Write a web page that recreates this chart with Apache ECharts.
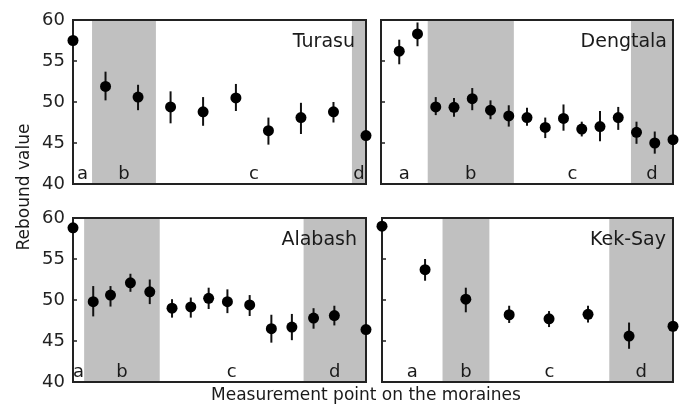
<!DOCTYPE html>
<html>
<head>
<meta charset="utf-8">
<script src="https://cdn.jsdelivr.net/npm/echarts@6/dist/echarts.min.js"></script>
<style>
html, body { margin: 0; padding: 0; background: #fff; }
#chart { width: 684px; height: 409px; }
</style>
</head>
<body>
<div id="chart"></div>
<script>
// position along the moraine (0-100 of the panel), mean rebound value, error bar ends
var turasuX = [0, 11.1, 22.2, 33.3, 44.4, 55.6, 66.7, 77.8, 88.9, 100];
var turasuY = [57.5, 51.9, 50.6, 49.4, 48.8, 50.5, 46.5, 48.1, 48.8, 45.9];
var turasuLo = [null, 50.2, 49.0, 47.4, 47.1, 48.9, 44.8, 46.1, 47.5, null];
var turasuHi = [null, 53.7, 52.1, 51.3, 50.6, 52.2, 48.1, 49.9, 50.0, null];
var turasuZones = [0, 6.5, 28.3, 95.2, 100];

var dengtalaX = [6.25, 12.5, 18.75, 25, 31.25, 37.5, 43.75, 50, 56.25, 62.5, 68.75, 75, 81.25, 87.5, 93.75, 100];
var dengtalaY = [56.2, 58.3, 49.4, 49.35, 50.4, 49.0, 48.3, 48.1, 46.9, 48.0, 46.7, 47.0, 48.1, 46.3, 45.0, 45.4];
var dengtalaLo = [54.6, 56.8, 48.4, 48.2, 49.0, 47.9, 47.0, 47.1, 45.6, 46.5, 45.8, 45.2, 46.6, 44.9, 43.7, null];
var dengtalaHi = [57.6, 59.7, 50.6, 50.5, 51.7, 50.2, 49.6, 49.3, 48.1, 49.7, 47.6, 48.9, 49.4, 47.6, 46.4, null];
var dengtalaZones = [0, 16.0, 45.5, 85.6, 100];

var alabashX = [0, 6.9, 12.8, 19.6, 26.2, 33.8, 40.2, 46.3, 52.7, 60.3, 67.7, 74.7, 82.1, 89.2, 100];
var alabashY = [58.8, 49.8, 50.6, 52.1, 51.0, 49.0, 49.15, 50.2, 49.8, 49.4, 46.5, 46.7, 47.8, 48.1, 46.4];
var alabashLo = [null, 48.0, 49.2, 51.0, 49.5, 47.85, 47.85, 48.9, 48.4, 48.05, 44.8, 45.1, 46.5, 46.9, null];
var alabashHi = [null, 51.7, 51.7, 53.2, 52.5, 50.1, 50.3, 51.5, 51.3, 50.6, 48.2, 48.3, 49.0, 49.3, null];
var alabashZones = [0, 3.8, 29.6, 78.7, 100];

var kekSayX = [0, 14.8, 28.8, 43.7, 57.4, 70.8, 84.9, 100];
var kekSayY = [59.0, 53.7, 50.1, 48.2, 47.7, 48.25, 45.6, 46.8];
var kekSayLo = [null, 52.35, 48.5, 47.2, 46.7, 47.25, 44.05, null];
var kekSayHi = [null, 55.0, 51.5, 49.3, 48.65, 49.3, 47.25, null];
var kekSayZones = [0, 20.8, 36.9, 78.1, 100];

var zoneLetters = ['a', 'b', 'c', 'd'];
var zoneShaded = [false, true, false, true];
var yTicks = [40, 45, 50, 55, 60];

var panels = [
    {name: 'Turasu', x: turasuX, y: turasuY, lo: turasuLo, hi: turasuHi, zones: turasuZones},
    {name: 'Dengtala', x: dengtalaX, y: dengtalaY, lo: dengtalaLo, hi: dengtalaHi, zones: dengtalaZones},
    {name: 'Alabash', x: alabashX, y: alabashY, lo: alabashLo, hi: alabashHi, zones: alabashZones},
    {name: 'Kek-Say', x: kekSayX, y: kekSayY, lo: kekSayLo, hi: kekSayHi, zones: kekSayZones}
];

var font = 'DejaVu Sans';
var boxes = [
    {left: 73, top: 20, width: 293, height: 164},
    {left: 381, top: 20, width: 292, height: 164},
    {left: 73, top: 218, width: 293, height: 164},
    {left: 382, top: 218, width: 291, height: 164}
];
var titleRight = [324, 12, 322, 13];

var chart = echarts.init(document.getElementById('chart'));

var grids = [], xAxes = [], yAxes = [], series = [], titles = [], graphics = [];

panels.forEach(function (p, i) {
    var b = boxes[i];
    grids.push({left: b.left, top: b.top, width: b.width, height: b.height});
    xAxes.push({gridIndex: i, type: 'value', min: 0, max: 100, show: false});
    yAxes.push({
        gridIndex: i, type: 'value', min: yTicks[0], max: yTicks[yTicks.length - 1], interval: 5,
        axisLine: {show: false},
        axisTick: {show: true, inside: true, length: 4, lineStyle: {color: '#222', width: 1.5}},
        splitLine: {show: false},
        axisLabel: {show: i % 2 == 0, fontFamily: font, fontSize: 18, color: '#222', margin: 8}
    });

    // shaded zones with a-d letters
    var areas = [];
    for (var z = 0; z < 4; z++) {
        areas.push([
            {
                xAxis: p.zones[z],
                itemStyle: {color: zoneShaded[z] ? '#c0c0c0' : 'rgba(0,0,0,0)'},
                label: {show: true, formatter: zoneLetters[z], position: 'insideBottom', distance: 1,
                        fontFamily: font, fontSize: 18, color: '#1a1a1a'}
            },
            {xAxis: p.zones[z + 1]}
        ]);
    }

    var pts = [], bars = [];
    for (var k = 0; k < p.x.length; k++) {
        pts.push([p.x[k], p.y[k]]);
        if (p.lo[k] != null) bars.push([p.x[k], p.lo[k], p.hi[k]]);
    }

    series.push({
        type: 'custom', xAxisIndex: i, yAxisIndex: i, z: 8, clip: false,
        data: bars,
        renderItem: function (params, api) {
            var a = api.coord([api.value(0), api.value(1)]);
            var c = api.coord([api.value(0), api.value(2)]);
            return {type: 'line', shape: {x1: a[0], y1: a[1], x2: c[0], y2: c[1]},
                    style: {stroke: '#111', lineWidth: 2}};
        },
        silent: true
    });
    series.push({
        type: 'scatter', xAxisIndex: i, yAxisIndex: i, z: 10, clip: false,
        symbol: 'circle', symbolSize: 11,
        itemStyle: {color: '#000', opacity: 1},
        data: pts,
        markArea: {silent: true, data: areas},
        silent: true
    });

    titles.push({text: p.name, right: titleRight[i], top: b.top + 8,
                 textStyle: {fontFamily: font, fontSize: 19, fontWeight: 'normal', color: '#1a1a1a'}});

    // panel frame
    graphics.push({type: 'rect', z: 5, silent: true,
        shape: {x: b.left, y: b.top, width: b.width, height: b.height},
        style: {fill: 'transparent', stroke: '#222', lineWidth: 2}});
});

graphics.push({type: 'text', rotation: Math.PI / 2, silent: true,
    x: 25, y: 187,
    style: {text: 'Rebound value', font: '17px "DejaVu Sans"', fill: '#1a1a1a', textAlign: 'center', textVerticalAlign: 'middle'}});
graphics.push({type: 'text', silent: true, left: 211, top: 387,
    style: {text: 'Measurement point on the moraines', font: '17px "DejaVu Sans"', fill: '#1a1a1a'}});

chart.setOption({
    animation: false,
    title: titles,
    grid: grids,
    xAxis: xAxes,
    yAxis: yAxes,
    series: series,
    graphic: graphics
});
</script>
</body>
</html>
